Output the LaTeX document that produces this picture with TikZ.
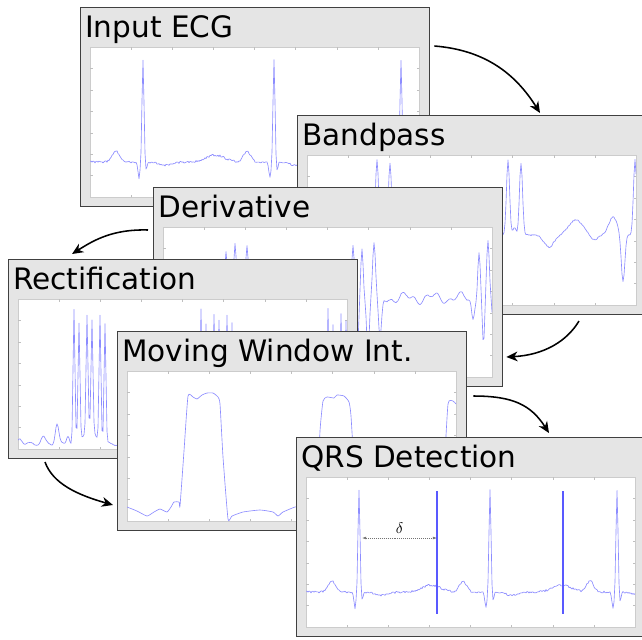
\documentclass[tikz,border=0pt]{standalone}
\usepackage{fontspec}
\newfontfamily\titlefont{DejaVu Sans}
\usetikzlibrary{arrows.meta,calc}

% small tick marks along the edges of a plot area
\newcommand\plotticks{%
  \foreach \i in {1,...,7} {\draw[plottick] (\i*41.125,0) -- ++(0,2.5) (\i*41.125,150) -- ++(0,-2.5);}%
  \foreach \j in {1,...,6} {\draw[plottick] (0,\j*21.43) -- ++(2.5,0) (329,\j*21.43) -- ++(-2.5,0);}}

\begin{document}
\begin{tikzpicture}[
    x=0.025cm, y=-0.025cm,
    panel/.style={rectangle, draw=black!75, line width=0.9pt, fill=black!10, minimum width=8.725cm, minimum height=4.975cm, inner sep=0pt, anchor=north west},
    plotarea/.style={rectangle, draw=black!20, line width=0.4pt, fill=white, minimum width=8.225cm, minimum height=3.75cm, inner sep=0pt, anchor=north west},
    paneltitle/.style={anchor=base west, inner sep=0pt, font=\titlefont\fontsize{21}{25}\selectfont},
    signal/.style={blue!45, line width=0.45pt, line join=round},
    detect/.style={blue!65, line width=0.9pt},
    plottick/.style={black!25, line width=0.3pt},
    dimline/.style={black!55, densely dotted, line width=0.4pt, {Latex[length=3pt,width=2pt]}-{Latex[length=3pt,width=2pt]}},
    arrow/.style={line width=1.1pt, ->, >={Stealth[length=8pt, width=7pt, inset=2.5pt]}},
    declare function={
      gs(\xv,\cv,\wv)=exp(-1*pow(min(abs(\xv-\cv),4*\wv)/\wv,2));
      ecgbeat(\xv,\cv)=-102*gs(\xv,\cv,1.4)+16*gs(\xv,\cv-4,1.5)+9*gs(\xv,\cv+3,1.3)-11*gs(\xv,\cv-27,5)-7*gs(\xv,\cv+72,13)+3*gs(\xv,\cv+22,10);
      bpbeat(\xv,\cv)=48*gs(\xv,\cv-12,2.5)-75*gs(\xv,\cv,2.2)-72*gs(\xv,\cv+13,2.2)-8*gs(\xv,\cv+6.5,2)+12*gs(\xv,\cv+41,7)-15*gs(\xv,\cv+68,10)+5*gs(\xv,\cv+86,5)-18*gs(\xv,\cv+105,6);
      dvbeat(\xv,\cv)=-50*gs(\xv,\cv-9,1.8)-55*gs(\xv,\cv,1.8)-55*gs(\xv,\cv+12,2)+50*gs(\xv,\cv-4.5,1.6)+58*gs(\xv,\cv+6,1.8)+45*gs(\xv,\cv+18,2.2)+20*gs(\xv,\cv-15,2);
      rcbeat(\xv,\cv)=-133*gs(\xv,\cv-15,1.3)-116*gs(\xv,\cv-10,1.3)-116*gs(\xv,\cv-2,1.3)-110*gs(\xv,\cv+3,1.3)-127*gs(\xv,\cv+11,1.3)-119*gs(\xv,\cv+16,1.3)-14*gs(\xv,\cv,9)-20*gs(\xv,\cv-32,2.5)-9*gs(\xv,\cv-21,2)-7*gs(\xv,\cv-46,3)-6*gs(\xv,\cv-69,3);
    }
]
\useasboundingbox (0,0) rectangle (642,639);

% Input ECG
\node[panel] (ecg) at (80,7) {};
\node[plotarea] (ecgplot) at ([shift={(10,40)}]ecg.north west) {};
\node[paneltitle] (ecgtitle) at ([shift={(5,30)}]ecg.north west) {Input ECG};
\begin{scope}[shift={(ecgplot.north west)}]
  \clip (0,0) rectangle (329,150);
  \plotticks
  \pgfmathsetseed{17}
  \draw[signal] plot[domain=0:329, samples=330] (\x, {115+ecgbeat(\x,53)+ecgbeat(\x,184)+ecgbeat(\x,311)+1.0*rand});
\end{scope}

% Bandpass
\node[panel] (bp) at (297,115) {};
\node[plotarea] (bpplot) at ([shift={(10,40)}]bp.north west) {};
\node[paneltitle] (bptitle) at ([shift={(5,30)}]bp.north west) {Bandpass};
\begin{scope}[shift={(bpplot.north west)}]
  \clip (0,0) rectangle (329,150);
  \plotticks
  \draw[signal] plot[domain=0:329, samples=330] (\x, {80+bpbeat(\x,70)+bpbeat(\x,201)+bpbeat(\x,328)+0.7*rand});
\end{scope}

% Derivative
\node[panel] (der) at (153,187) {};
\node[plotarea] (derplot) at ([shift={(10,40)}]der.north west) {};
\node[paneltitle] (dertitle) at ([shift={(5,30)}]der.north west) {Derivative};
\begin{scope}[shift={(derplot.north west)}]
  \clip (0,0) rectangle (329,150);
  \plotticks
  \draw[signal] plot[domain=0:329, samples=330] (\x, {71+4*sin(13*\x)+2.5*sin(31*\x+40)+dvbeat(\x,72)+dvbeat(\x,199)+dvbeat(\x,325)+0.4*rand});
\end{scope}

% Rectification
\node[panel] (rect) at (8,259) {};
\node[plotarea] (rectplot) at ([shift={(10,40)}]rect.north west) {};
\node[paneltitle] (recttitle) at ([shift={(5,30)}]rect.north west) {Rectification};
\begin{scope}[shift={(rectplot.north west)}]
  \clip (0,0) rectangle (329,150);
  \plotticks
  \draw[signal] plot[domain=0:329, samples=330] (\x, {145+1.5*sin(23*\x)+rcbeat(\x,71)+rcbeat(\x,198)+rcbeat(\x,325)+0.3*rand});
\end{scope}

% Moving Window Int.
\node[panel] (mwi) at (117,331) {};
\node[plotarea] (mwiplot) at ([shift={(10,40)}]mwi.north west) {};
\node[paneltitle] (mwititle) at ([shift={(5,30)}]mwi.north west) {Moving Window Int.};
\begin{scope}[shift={(mwiplot.north west)}]
  \clip (0,0) rectangle (329,150);
  \plotticks
  \draw[signal] plot[smooth, tension=0.3] coordinates {(0,136) (10,140) (20,145) (27,141) (33,138) (40,141) (44,136) (47,131) (52,131) (53,135) (57,80) (61,25) (66,26) (70,28) (75,24) (80,22) (86,22) (91,26) (93,33) (96,86) (101,148) (105,145) (116,141) (133,139) (146,141) (151,145) (156,141) (168,136) (176,135) (185,133) (190,128) (193,60) (196,30) (200,26) (207,27) (210,24) (217,25) (222,31) (224,45) (228,110) (232,138) (245,140) (260,138) (275,142) (290,139) (305,136) (314,134) (317,100) (321,33) (326,30) (329,33)};
\end{scope}

% QRS Detection
\node[panel] (qrs) at (296,437) {};
\node[plotarea] (qrsplot) at ([shift={(10,40)}]qrs.north west) {};
\node[paneltitle] (qrstitle) at ([shift={(5,30)}]qrs.north west) {QRS Detection};
\begin{scope}[shift={(qrsplot.north west)}]
  \clip (0,0) rectangle (329,150);
  \plotticks
  \pgfmathsetseed{17}
  \draw[signal] plot[domain=0:329, samples=330] (\x, {115+ecgbeat(\x,53)+ecgbeat(\x,184)+ecgbeat(\x,311)+1.0*rand});
  \draw[detect] (131,14) -- (131,137);
  \draw[detect] (257,14) -- (257,137);
  \coordinate (dleft) at (56,61);
  \coordinate (dright) at (131,61);
  \draw[dimline] (dleft) -- node[above=0pt, black, font=\fontsize{11}{13}\selectfont] (dlabel) {$\delta$} (dright);
\end{scope}

% Arrows between the stages
\draw[arrow] ([shift={(4,39)}]ecg.north east) .. controls +(50,4) and +(-25,-40) .. ([shift={(243,-2)}]bp.north west);
\draw[arrow] ([shift={(282,206)}]bp.north west) .. controls +(-12,20) and +(38,-2) .. ([shift={(3,170)}]der.north east);
\draw[arrow] ([shift={(-5,43)}]der.north west) .. controls +(-35,-1) and +(22,-14) .. ([shift={(64,-5)}]rect.north west);
\draw[arrow] ([shift={(37,203)}]rect.north west) .. controls +(8,22) and +(-35,-10) .. ([shift={(-4,174)}]mwi.north west);
\draw[arrow] ([shift={(6,65)}]mwi.north east) .. controls +(40,0) and +(-18,-28) .. ([shift={(253,-4)}]qrs.north west);

\end{tikzpicture}
\end{document}
